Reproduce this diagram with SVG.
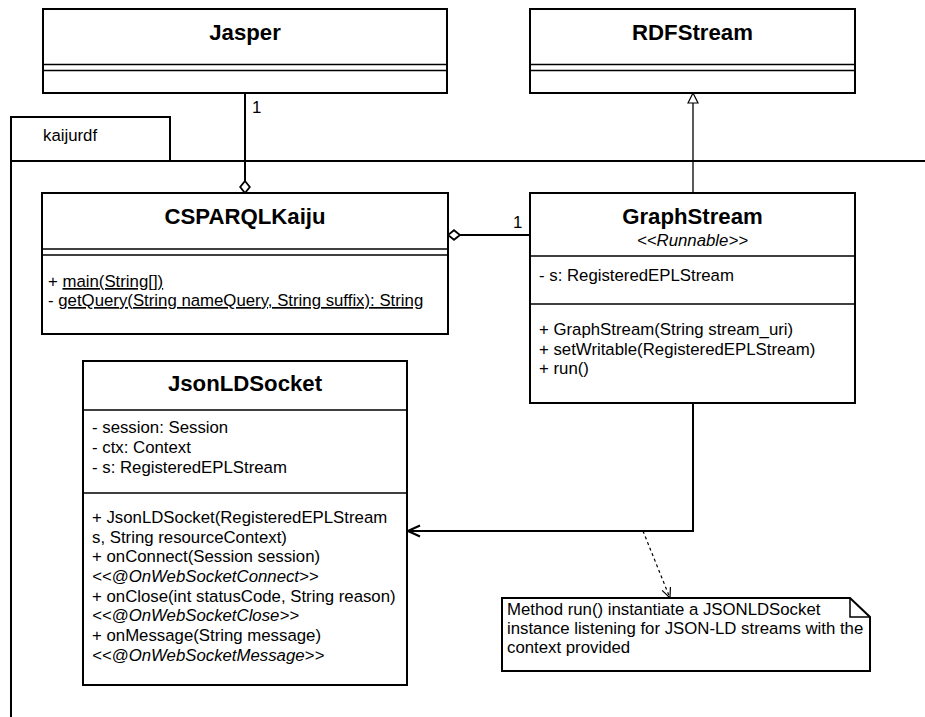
<svg xmlns="http://www.w3.org/2000/svg" width="925" height="717" viewBox="0 0 925 717">
  <style>
    .box { fill: #ffffff; stroke: #000000; stroke-width: 2; }
    .sep { stroke: #000000; stroke-width: 1.5; fill: none; }
    .title { font-family: "Liberation Sans", Arial, sans-serif; font-size: 22.2px; font-weight: bold; text-anchor: middle; fill: #000; }
    .txt { font-family: "Liberation Sans", Arial, sans-serif; font-size: 16.8px; fill: #000; }
    .it { font-style: italic; }
    .ul { text-decoration: underline; }
    .edge { fill: none; stroke: #000; stroke-width: 2; }
    .thin { fill: none; stroke: #000; stroke-width: 1.3; }
    .dash { fill: none; stroke: #000; stroke-width: 1.2; stroke-dasharray: 3 3; }
  </style>
  <defs>
    <marker id="diamond" viewBox="0 0 14 12" refX="13" refY="6" markerWidth="14" markerHeight="12" markerUnits="userSpaceOnUse" orient="auto">
      <path d="M1,6 L7,1.2 L13,6 L7,10.8 Z" fill="#fff" stroke="#000" stroke-width="1.8"/>
    </marker>
    <marker id="triangle" viewBox="0 0 12 12" refX="11" refY="6" markerWidth="12" markerHeight="12" markerUnits="userSpaceOnUse" orient="auto">
      <path d="M1,1 L11,6 L1,11 Z" fill="#fff" stroke="#000" stroke-width="1.2"/>
    </marker>
    <marker id="open" viewBox="0 0 14 14" refX="13" refY="7" markerWidth="14" markerHeight="14" markerUnits="userSpaceOnUse" orient="auto">
      <path d="M1,1.5 L13,7 L1,12.5" fill="none" stroke="#000" stroke-width="2"/>
    </marker>
    <marker id="openThin" viewBox="0 0 12 12" refX="11" refY="6" markerWidth="12" markerHeight="12" markerUnits="userSpaceOnUse" orient="auto">
      <path d="M1,1.5 L11,6 L1,10.5" fill="none" stroke="#000" stroke-width="1.2"/>
    </marker>
  </defs>

  <rect x="0" y="0" width="925" height="717" fill="#ffffff"/>

  <!-- package kaijurdf -->
  <g id="pkg-kaijurdf">
    <path d="M11,717 V117 H170 V161" class="box" fill="#fff"/>
    <path d="M11,161 H925" class="edge"/>
    <text x="43" y="141" class="txt">kaijurdf</text>
  </g>

  <!-- Jasper -->
  <g id="jasper">
    <rect x="43" y="9" width="404" height="84" class="box"/>
    <line x1="43" y1="64.5" x2="447" y2="64.5" class="sep"/>
    <line x1="43" y1="70.5" x2="447" y2="70.5" class="sep"/>
    <text x="245" y="40" class="title">Jasper</text>
  </g>

  <!-- RDFStream -->
  <g id="rdfstream">
    <rect x="530" y="9" width="325" height="84" class="box"/>
    <line x1="530" y1="64.5" x2="855" y2="64.5" class="sep"/>
    <line x1="530" y1="70.5" x2="855" y2="70.5" class="sep"/>
    <text x="692.5" y="40" class="title">RDFStream</text>
  </g>

  <!-- CSPARQLKaiju -->
  <g id="csparqlkaiju">
    <rect x="42" y="193" width="406" height="141" class="box"/>
    <line x1="42" y1="249" x2="448" y2="249" class="sep"/>
    <line x1="42" y1="255" x2="448" y2="255" class="sep"/>
    <text x="245" y="224" class="title">CSPARQLKaiju</text>
    <text x="48" y="287" class="txt">+ <tspan class="ul">main(String[])</tspan></text>
    <text x="48" y="306" class="txt">- <tspan class="ul">getQuery(String nameQuery, String suffix): String</tspan></text>
  </g>

  <!-- GraphStream -->
  <g id="graphstream">
    <rect x="530" y="193" width="325" height="210" class="box"/>
    <line x1="530" y1="256" x2="855" y2="256" class="sep"/>
    <line x1="530" y1="304" x2="855" y2="304" class="sep"/>
    <text x="692.5" y="224" class="title">GraphStream</text>
    <text x="692.5" y="246" class="txt it" text-anchor="middle">&lt;&lt;Runnable&gt;&gt;</text>
    <text x="539" y="281" class="txt">- s: RegisteredEPLStream</text>
    <text x="539" y="335" class="txt">+ GraphStream(String stream_uri)</text>
    <text x="539" y="355" class="txt">+ setWritable(RegisteredEPLStream)</text>
    <text x="539" y="374" class="txt">+ run()</text>
  </g>

  <!-- JsonLDSocket -->
  <g id="jsonldsocket">
    <rect x="83" y="361" width="324" height="324" class="box"/>
    <line x1="83" y1="410" x2="407" y2="410" class="sep"/>
    <line x1="83" y1="493" x2="407" y2="493" class="sep"/>
    <text x="245" y="391" class="title">JsonLDSocket</text>
    <text x="92" y="433" class="txt">- session: Session</text>
    <text x="92" y="453" class="txt">- ctx: Context</text>
    <text x="92" y="472.5" class="txt">- s: RegisteredEPLStream</text>
    <text x="92" y="523" class="txt">+ JsonLDSocket(RegisteredEPLStream</text>
    <text x="92" y="542.5" class="txt">s, String resourceContext)</text>
    <text x="92" y="562" class="txt">+ onConnect(Session session)</text>
    <text x="92" y="582" class="txt it">&lt;&lt;@OnWebSocketConnect&gt;&gt;</text>
    <text x="92" y="601.5" class="txt">+ onClose(int statusCode, String reason)</text>
    <text x="92" y="621" class="txt it">&lt;&lt;@OnWebSocketClose&gt;&gt;</text>
    <text x="92" y="641" class="txt">+ onMessage(String message)</text>
    <text x="92" y="660.5" class="txt it">&lt;&lt;@OnWebSocketMessage&gt;&gt;</text>
  </g>

  <!-- note -->
  <g id="note">
    <path d="M502,598 H850 L870,617 V671 H502 Z" class="box"/>
    <path d="M850,598 V617 H870" class="sep"/>
    <text x="507" y="615" class="txt">Method run() instantiate a JSONLDSocket</text>
    <text x="507" y="634" class="txt">instance listening for JSON-LD streams with the</text>
    <text x="507" y="653" class="txt">context provided</text>
  </g>

  <!-- connectors -->
  <g id="connectors">
    <!-- Jasper aggregates CSPARQLKaiju -->
    <path d="M245,93 V193" class="edge" marker-end="url(#diamond)"/>
    <text x="252" y="113" class="txt" font-size="14">1</text>
    <!-- GraphStream aggregated into CSPARQLKaiju -->
    <path d="M530,235 H448" class="edge" marker-end="url(#diamond)"/>
    <text x="513" y="228" class="txt" font-size="14">1</text>
    <!-- GraphStream generalises RDFStream -->
    <path d="M693,193 V93" class="thin" marker-end="url(#triangle)"/>
    <!-- GraphStream uses JsonLDSocket -->
    <path d="M693,403 V531 H408" class="edge" marker-end="url(#open)"/>
    <!-- note anchor -->
    <path d="M643,531 L670,598" class="dash" marker-end="url(#openThin)"/>
  </g>
</svg>
